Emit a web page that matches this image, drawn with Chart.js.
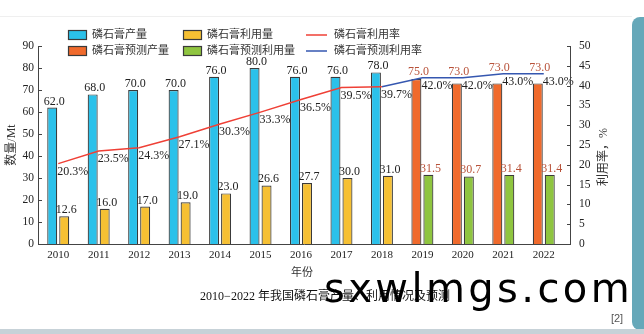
<!DOCTYPE html>
<html>
<head>
<meta charset="utf-8">
<script src="https://cdn.jsdelivr.net/npm/chart.js@4/dist/chart.umd.min.js"></script>
<style>
  html, body { margin:0; padding:0; background:#fff; }
  #wrap { position:relative; width:644px; height:334px; overflow:hidden; }
  #c { position:absolute; left:0; top:0; }
  .topline { position:absolute; left:0; top:16px; width:632px; height:1px; background:#efefef; }
  .sidebar { position:absolute; left:632px; top:17px; width:12px; height:313px; background:#66a8b9; border-radius:8px 0 0 8px; }
  .band { position:absolute; left:0; top:329px; width:644px; height:5px; background:#c7d2d8; }
  .mark { position:absolute; left:324px; top:268px; font:40px "DejaVu Sans", sans-serif; letter-spacing:3.4px; line-height:40px; color:#000; white-space:nowrap; }
</style>
</head>
<body>
<div id="wrap">
  <div class="topline"></div>
  <canvas id="c" width="644" height="334"></canvas>
  <div class="sidebar"></div>
  <div class="band"></div>
  <div class="mark">sxwlmgs.com</div>
</div>
<script>
// 年份与数据（Mt / %）
const years = ["2010","2011","2012","2013","2014","2015","2016","2017","2018","2019","2020","2021","2022"];
const output         = [62.0, 68.0, 70.0, 70.0, 76.0, 80.0, 76.0, 76.0, 78.0, null, null, null, null];
const outputForecast = [null, null, null, null, null, null, null, null, null, 75.0, 73.0, 73.0, 73.0];
const used           = [12.6, 16.0, 17.0, 19.0, 23.0, 26.6, 27.7, 30.0, 31.0, null, null, null, null];
const usedForecast   = [null, null, null, null, null, null, null, null, null, 31.5, 30.7, 31.4, 31.4];
const rate           = [20.3, 23.5, 24.3, 27.1, 30.3, 33.3, 36.5, 39.5, 39.7, null, null, null, null];
const rateForecast   = [null, null, null, null, null, null, null, null, 39.7, 42.0, 42.0, 43.0, 43.0];

const SERIF = '"Liberation Serif", "Noto Sans CJK SC", serif';
const INK = "#222";
const FORECAST_INK = "#b8523a";

const C = {
  blue:"#2bc1ea", orange:"#f06a2c", yellow:"#f6c033", green:"#8fc540",
  red:"#ef4036", navy:"#3557b0", edge:"#3a3a3a"
};

const bar = (label, data, color, stack) => ({
  type:"bar", label, data, stack, backgroundColor:color, borderColor:C.edge, borderWidth:1.2,
  categoryPercentage:0.593, barPercentage:0.833, order:2, yAxisID:"y"
});
const line = (label, data, color) => ({
  type:"line", label, data, borderColor:color, backgroundColor:color, borderWidth:1.5,
  pointRadius:0, tension:0, spanGaps:false, order:0, yAxisID:"y1"
});

// 数值标注 + 图例 + 坐标轴框线
const decor = {
  id:"decor",
  afterDatasetsDraw(chart){
    const ctx = chart.ctx;
    const ys = chart.scales.y, y1 = chart.scales.y1;
    const L = chart.chartArea.left, B = chart.chartArea.bottom, T = chart.chartArea.top;
    const R = 570;
    const fcLine = chart.getDatasetMeta(5).data;
    ctx.save();

    // 柱顶数值（预测产量标在预测利用率折线之上）
    ctx.font = "12px " + SERIF;
    ctx.textAlign = "center"; ctx.textBaseline = "alphabetic";
    chart.data.datasets.forEach((ds, di) => {
      if(ds.type !== "bar") return;
      ctx.fillStyle = (di === 1 || di === 3) ? FORECAST_INK : INK;
      chart.getDatasetMeta(di).data.forEach((el, i) => {
        const v = ds.data[i];
        if(v == null) return;
        let y = el.y - 3;
        if(di === 1 && fcLine[i]) y = Math.min(y, fcLine[i].y - 3);
        ctx.fillText(v.toFixed(1), el.x + 2, y);
      });
    });

    // 利用率百分比
    ctx.fillStyle = INK; ctx.textAlign = "left"; ctx.textBaseline = "middle";
    [4,5].forEach(di => {
      const ds = chart.data.datasets[di];
      chart.getDatasetMeta(di).data.forEach((el, i) => {
        const v = ds.data[i];
        if(v == null) return;
        if(di === 5 && rate[i] != null) return;
        ctx.fillText(v.toFixed(1) + "%", el.x - 1, el.y + 8);
      });
    });

    // 轴线与刻度（朝内）
    ctx.strokeStyle = "#444"; ctx.lineWidth = 1;
    ctx.beginPath();
    ctx.moveTo(L + 0.5, T); ctx.lineTo(L + 0.5, B + 0.5);
    ctx.lineTo(R + 0.5, B + 0.5); ctx.lineTo(R + 0.5, T);
    ys.ticks.forEach(t => { const p = Math.round(ys.getPixelForValue(t.value)) + 0.5; ctx.moveTo(L, p); ctx.lineTo(L + 4, p); });
    y1.ticks.forEach(t => { const p = Math.round(y1.getPixelForValue(t.value)) + 0.5; ctx.moveTo(R - 3, p); ctx.lineTo(R + 1, p); });
    ctx.stroke();

    // 图例
    ctx.font = "11px " + SERIF; ctx.textBaseline = "middle"; ctx.textAlign = "left";
    const cols = [68, 183, 306], rows = [35, 51];
    const slots = [[0,0,0],[1,0,1],[2,1,0],[3,1,1],[4,2,0],[5,2,1]];
    slots.forEach(([di, c, r]) => {
      const ds = chart.data.datasets[di];
      const x = cols[c], y = rows[r];
      if(ds.type === "bar"){
        ctx.fillStyle = ds.backgroundColor; ctx.fillRect(x, y - 5, 19, 10);
        ctx.strokeStyle = C.edge; ctx.lineWidth = 1.2; ctx.strokeRect(x + 0.5, y - 4.5, 18, 9);
        ctx.fillStyle = "#333"; ctx.fillText(ds.label, x + 24, y);
      } else {
        ctx.strokeStyle = ds.borderColor; ctx.lineWidth = 1.5;
        ctx.beginPath(); ctx.moveTo(x, y); ctx.lineTo(x + 21, y); ctx.stroke();
        ctx.fillStyle = "#333"; ctx.fillText(ds.label, x + 28, y);
      }
    });

    // 轴标题、图题
    ctx.fillStyle = "#333"; ctx.font = "12px " + SERIF; ctx.textAlign = "center";
    ctx.save(); ctx.translate(12, 145); ctx.rotate(-Math.PI/2); ctx.fillText("数量/Mt", 0, 0); ctx.restore();
    ctx.save(); ctx.translate(604, 157); ctx.rotate(-Math.PI/2); ctx.fillText("利用率，%", 0, 0); ctx.restore();
    ctx.font = "11px " + SERIF; ctx.fillText("年份", 302, 273);
    ctx.font = "12px " + SERIF; ctx.fillStyle = "#111";
    ctx.fillText("2010−2022 年我国磷石膏产量、利用情况及预测", 325, 297);
    ctx.font = '11px "Liberation Sans", sans-serif'; ctx.fillStyle = "#555";
    ctx.fillText("[2]", 617, 319);
    ctx.restore();
  }
};

new Chart(document.getElementById("c"), {
  data:{
    labels: years,
    datasets:[
      bar("磷石膏产量", output, C.blue, "p"),
      bar("磷石膏预测产量", outputForecast, C.orange, "p"),
      bar("磷石膏利用量", used, C.yellow, "u"),
      bar("磷石膏预测利用量", usedForecast, C.green, "u"),
      line("磷石膏利用率", rate, C.red),
      line("磷石膏预测利用率", rateForecast, C.navy)
    ]
  },
  options:{
    responsive:false, animation:false, devicePixelRatio:1,
    layout:{ padding:{ top:46, left:0, right:0, bottom:0 } },
    plugins:{ legend:{ display:false }, tooltip:{ enabled:false } },
    scales:{
      x:{
        offset:true,
        grid:{ display:false, drawTicks:false }, border:{ display:false },
        ticks:{ font:{ family:SERIF, size:11 }, color:INK, padding:5, maxRotation:0, autoSkip:false },
        afterFit(s){ s.height = 90; }
      },
      y:{
        position:"left", min:0, max:90, stacked:true,
        grid:{ display:false, drawTicks:false }, border:{ display:false },
        ticks:{ stepSize:10, font:{ family:SERIF, size:11.5 }, color:INK, padding:4 },
        afterFit(s){ s.width = 38; }
      },
      y1:{
        position:"right", min:0, max:50,
        grid:{ display:false, drawTicks:false }, border:{ display:false },
        ticks:{ stepSize:5, font:{ family:SERIF, size:11.5 }, color:INK, padding:15 },
        afterFit(s){ s.width = 80; }
      }
    }
  },
  plugins:[decor]
});
</script>
</body>
</html>
